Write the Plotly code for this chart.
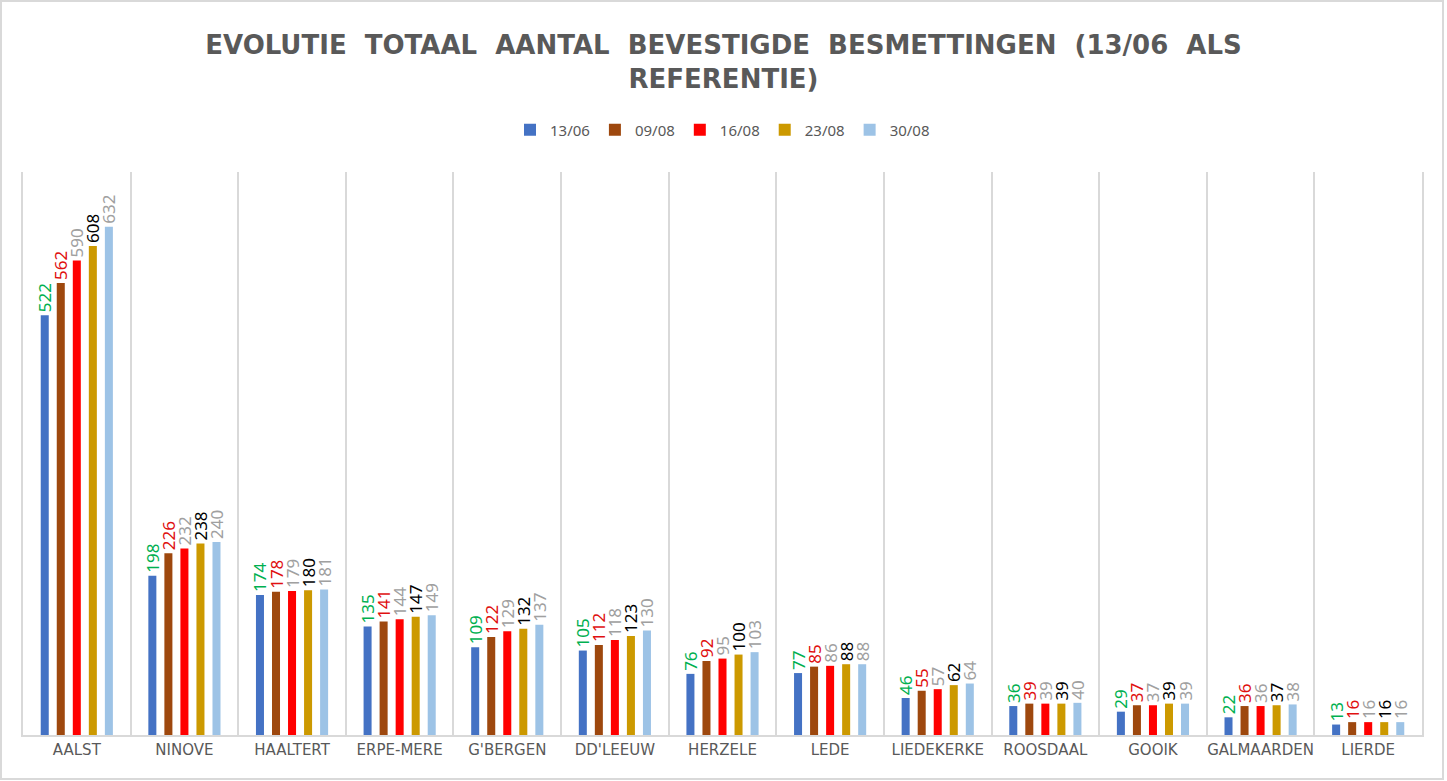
import plotly.graph_objects as go

categories = ["AALST", "NINOVE", "HAALTERT", "ERPE-MERE", "G'BERGEN", "DD'LEEUW",
              "HERZELE", "LEDE", "LIEDEKERKE", "ROOSDAAL", "GOOIK", "GALMAARDEN", "LIERDE"]
series_names = ["13/06", "09/08", "16/08", "23/08", "30/08"]
v_1306 = [522, 198, 174, 135, 109, 105, 76, 77, 46, 36, 29, 22, 13]
v_0908 = [562, 226, 178, 141, 122, 112, 92, 85, 55, 39, 37, 36, 16]
v_1608 = [590, 232, 179, 144, 129, 118, 95, 86, 57, 39, 37, 36, 16]
v_2308 = [608, 238, 180, 147, 132, 123, 100, 88, 62, 39, 39, 37, 16]
v_3008 = [632, 240, 181, 149, 137, 130, 103, 88, 64, 40, 39, 38, 16]
values = [v_1306, v_0908, v_1608, v_2308, v_3008]

bar_colors = ["#4472C4", "#9E480E", "#FF0000", "#CC9900", "#9DC3E6"]
label_colors = ["#00B050", "#E01010", "#A0A0A0", "#000000", "#A0A0A0"]

fig = go.Figure()
for name, vals, bc, lc in zip(series_names, values, bar_colors, label_colors):
    fig.add_trace(go.Bar(
        x=categories, y=vals, name=name,
        marker=dict(color=bc, line=dict(width=0)),
        text=[str(v) for v in vals], textposition="outside", textangle=-90,
        textfont=dict(color=lc, size=17, family="Noto Sans"),
        constraintext="none", cliponaxis=False,
    ))

W, H = 1447, 781
L, R, T, B = 23, 1447 - 1422, 172, 781 - 735
pw, ph = W - L - R, H - T - B

fig.update_layout(
    width=W, height=H,
    margin=dict(l=L, r=R, t=T, b=B, autoexpand=False),
    paper_bgcolor="white", plot_bgcolor="white",
    barmode="group", bargap=0.255, bargroupgap=0.5,
    title=dict(
        text="<b>EVOLUTIE  TOTAAL  AANTAL  BEVESTIGDE  BESMETTINGEN  (13/06  ALS<br>REFERENTIE)</b>",
        x=0.5, xanchor="center", y=(H - 61) / H, yanchor="middle",
        font=dict(family="DejaVu Sans", size=26, color="#595959"),
    ),
    legend=dict(orientation="h", x=0.5, xanchor="center",
                y=(H - B - 130) / ph, yanchor="middle",
                font=dict(family="Noto Sans", size=15, color="#595959"),
                itemwidth=30, tracegroupgap=0),
    xaxis=dict(
        type="category", tickson="boundaries", showgrid=True,
        gridcolor="#D9D9D9", gridwidth=2,
        showline=True, linecolor="#D9D9D9", linewidth=2,
        ticks="", tickangle=0, automargin=False,
        tickfont=dict(family="DejaVu Sans", size=15, color="#595959"),
    ),
    yaxis=dict(range=[0, 700], showgrid=False, showticklabels=False,
               zeroline=False, showline=True, mirror=True,
               linecolor="#D9D9D9", linewidth=2, ticks="", automargin=False),
    showlegend=True,
)

fig.add_shape(type="rect", xref="paper", yref="paper",
              x0=(1 - L) / pw, x1=(1443 - L) / pw,
              y0=(H - B - 779) / ph, y1=(H - B - 1) / ph,
              line=dict(color="#D9D9D9", width=2), fillcolor="rgba(0,0,0,0)", layer="below")

fig.update_layout(title_y=(H - 54) / H)

fig.write_html("out.html", config={"displayModeBar": False},
               post_script="document.body.style.margin='0';document.body.style.overflow='hidden';")
